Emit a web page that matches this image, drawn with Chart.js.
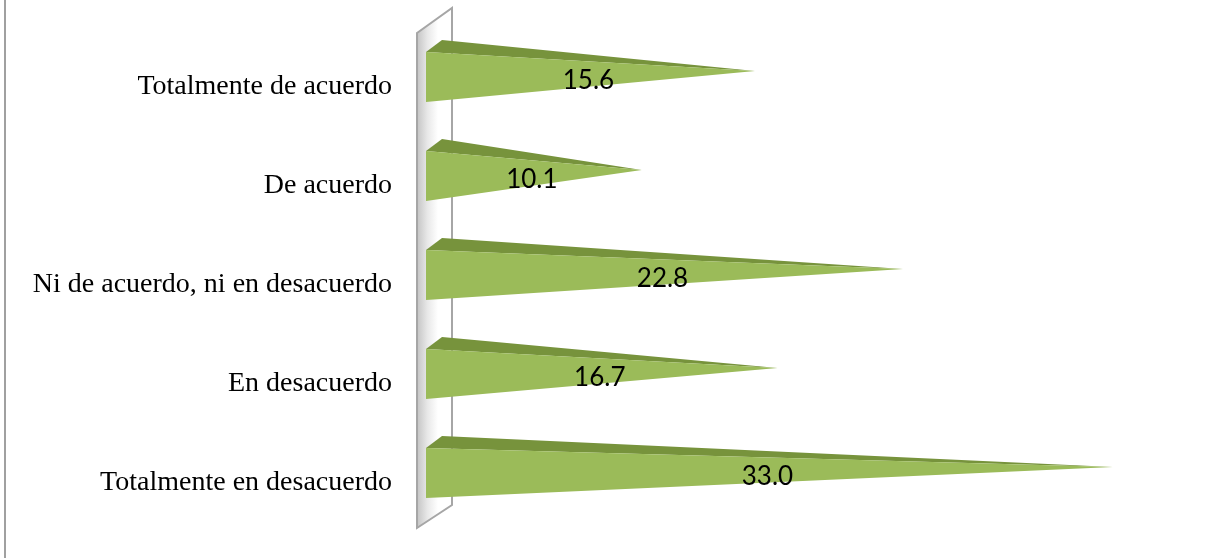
<!DOCTYPE html>
<html>
<head>
<meta charset="utf-8">
<script src="https://cdn.jsdelivr.net/npm/chart.js@4"></script>
<style>
  html, body { margin: 0; padding: 0; background: #ffffff; }
  canvas { display: block; }
</style>
</head>
<body>
<canvas id="chart" width="1214" height="558"></canvas>
<script>
// Chart data
const categories = [
    'Totalmente de acuerdo',
    'De acuerdo',
    'Ni de acuerdo, ni en desacuerdo',
    'En desacuerdo',
    'Totalmente en desacuerdo'
];
const values = [15.6, 10.1, 22.8, 16.7, 33.0];
const axisMin = 0;
const axisMax = 35;

// Colours of the 3D pyramids
const frontColor = '#9bbb59';
const topColor = '#77933c';

// Draws the back wall, the pyramids and their value labels
const pyramidPlugin = {
    id: 'pyramids',
    beforeDraw(chart) {
        const ctx = chart.ctx;
        ctx.save();
        ctx.fillStyle = '#ffffff';
        ctx.fillRect(0, 0, chart.width, chart.height);
        // left frame line
        ctx.strokeStyle = '#a0a0a0';
        ctx.lineWidth = 2;
        ctx.beginPath();
        ctx.moveTo(5, 0);
        ctx.lineTo(5, chart.height);
        ctx.stroke();
        ctx.restore();
    },
    beforeDatasetsDraw(chart) {
        const ctx = chart.ctx;
        const ca = chart.chartArea;
        const x0 = chart.scales.x.getPixelForValue(axisMin);
        const fl = x0 - 17, br = x0 + 18;
        const ft = ca.top + 11.5, bt = ca.top - 13.5;
        const fb = ca.bottom + 11.5, bb = ca.bottom - 11.5;

        ctx.save();
        const grad = ctx.createLinearGradient(fl, 0, br, 0);
        grad.addColorStop(0, '#c4c4c4');
        grad.addColorStop(0.3, '#e8e8e8');
        grad.addColorStop(0.6, '#ffffff');
        grad.addColorStop(1, '#ffffff');
        ctx.beginPath();
        ctx.moveTo(fl, ft);
        ctx.lineTo(br, bt);
        ctx.lineTo(br, bb);
        ctx.lineTo(fl, fb);
        ctx.closePath();
        ctx.fillStyle = grad;
        ctx.fill();
        ctx.strokeStyle = '#a6a6a6';
        ctx.lineWidth = 2;
        ctx.stroke();
        ctx.restore();
    },
    afterDatasetsDraw(chart) {
        const ctx = chart.ctx;
        const meta = chart.getDatasetMeta(0);
        const dx = 8, dy = 6;
        ctx.save();
        meta.data.forEach((bar, i) => {
            const p = bar.getProps(['x', 'y', 'base', 'height'], true);
            const half = p.height / 2;
            const frontTop = [p.base - dx, p.y - half + dy];
            const frontBottom = [p.base - dx, p.y + half + dy];
            const backTop = [p.base + dx, p.y - half - dy];
            const apex = [p.x, p.y];

            // top face
            ctx.beginPath();
            ctx.moveTo(frontTop[0], frontTop[1]);
            ctx.lineTo(backTop[0], backTop[1]);
            ctx.lineTo(apex[0], apex[1]);
            ctx.closePath();
            ctx.fillStyle = topColor;
            ctx.fill();

            // front face
            ctx.beginPath();
            ctx.moveTo(frontTop[0], frontTop[1]);
            ctx.lineTo(frontBottom[0], frontBottom[1]);
            ctx.lineTo(apex[0], apex[1]);
            ctx.closePath();
            ctx.fillStyle = frontColor;
            ctx.fill();

            // value label
            ctx.fillStyle = '#000000';
            ctx.font = '26px Lato';
            ctx.textAlign = 'center';
            ctx.textBaseline = 'middle';
            ctx.fillText(values[i].toFixed(1), p.base + (p.x - p.base) / 2 - 6, p.y + 10);
        });
        ctx.restore();
    }
};

new Chart(document.getElementById('chart'), {
    type: 'bar',
    data: {
        labels: categories,
        datasets: [{
            data: values,
            backgroundColor: 'rgba(0, 0, 0, 0)',
            borderWidth: 0,
            barThickness: 50
        }]
    },
    options: {
        indexAxis: 'y',
        responsive: false,
        animation: false,
        devicePixelRatio: 1,
        layout: {
            padding: { left: 0, right: 60, top: 21.5, bottom: 41.5 }
        },
        plugins: {
            legend: { display: false },
            tooltip: { enabled: false }
        },
        scales: {
            x: {
                display: false,
                min: axisMin,
                max: axisMax
            },
            y: {
                afterFit(scale) {
                    scale.width = 434;
                    scale.paddingTop = 0;
                    scale.paddingBottom = 0;
                },
                grid: { display: false, drawTicks: false },
                border: { display: false },
                ticks: {
                    padding: 42,
                    labelOffset: 16,
                    color: '#000000',
                    font: { family: 'Liberation Serif', size: 28 }
                }
            }
        }
    },
    plugins: [pyramidPlugin]
});
</script>
</body>
</html>
